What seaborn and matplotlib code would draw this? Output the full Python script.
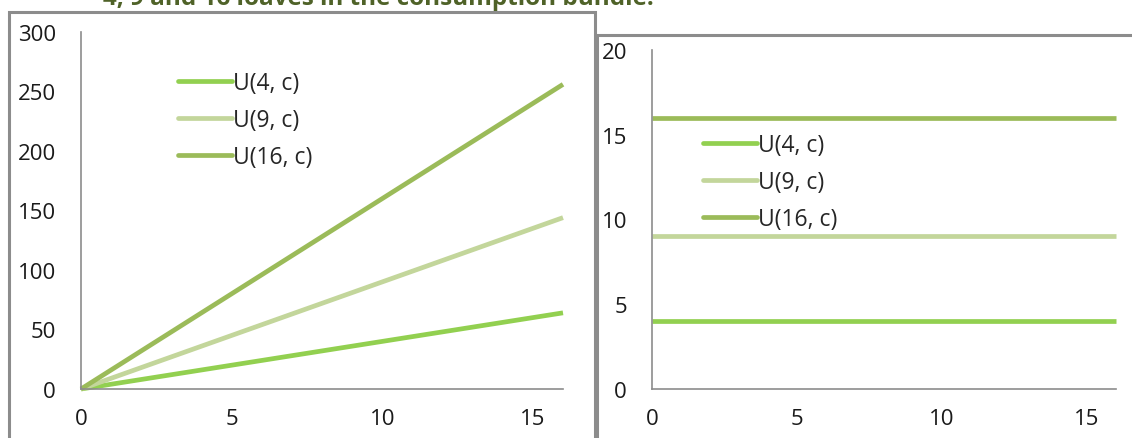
import numpy as np
import pandas as pd
import matplotlib
matplotlib.use("Agg")
import matplotlib.pyplot as plt
import seaborn as sns
from matplotlib.patches import Rectangle

# Quantities of c and the three bundle sizes
c_values = list(range(0, 17))
bundle_sizes = [4, 9, 16]
series_labels = ["U(4, c)", "U(9, c)", "U(16, c)"]

# Left panel: total utility s * c ; right panel: constant level s
total_u = {lab: [s * c for c in c_values] for lab, s in zip(series_labels, bundle_sizes)}
level_u = {lab: [s for _ in c_values] for lab, s in zip(series_labels, bundle_sizes)}

left_yticks = [0, 50, 100, 150, 200, 250, 300]
right_yticks = [0, 5, 10, 15, 20]
xticks = [0, 5, 10, 15]

palette = ["#92D050", "#C3D69B", "#9BBB59"]

sns.set_theme(style="white")
plt.rcParams["font.family"] = ["Open Sans", "DejaVu Sans"]

W, H = 1132, 439
fig = plt.figure(figsize=(W / 100, H / 100), dpi=100)

TICK_FS = 16
LEG_FS = 16.5


def fx(px):
    return px / W


def fy(py):
    return 1 - py / H


def long_df(d):
    rows = []
    for lab, vals in d.items():
        for c, v in zip(c_values, vals):
            rows.append({"c": c, "U": v, "series": lab})
    return pd.DataFrame(rows)


# Panel frames
fig.patches.append(Rectangle((fx(9), fy(445)), fx(595 - 9), fy(13) - fy(445),
                             transform=fig.transFigure, fill=False,
                             edgecolor="#8C8C8C", linewidth=2.2, zorder=0))
fig.patches.append(Rectangle((fx(597), fy(445)), fx(1140 - 597), fy(36) - fy(445),
                             transform=fig.transFigure, fill=False,
                             edgecolor="#8C8C8C", linewidth=2.2, zorder=0))

ax1 = fig.add_axes([fx(81), fy(390), fx(563 - 81), fy(33) - fy(390)])
ax2 = fig.add_axes([fx(652), fy(390), fx(1116 - 652), fy(51) - fy(390)])

for ax, data, yt, leg_pos in [
    (ax1, total_u, left_yticks, (fx(178), fy(72))),
    (ax2, level_u, right_yticks, (fx(703), fy(134))),
]:
    df = long_df(data)
    sns.lineplot(data=df, x="c", y="U", hue="series", palette=palette,
                 linewidth=3.4, ax=ax, legend=False)
    ax.set_xlim(0, 16)
    ax.set_ylim(yt[0], yt[-1])
    ax.set_xticks(xticks)
    ax.set_yticks(yt)
    ax.set_xlabel("")
    ax.set_ylabel("")
    ax.patch.set_alpha(0)
    for side in ["top", "right"]:
        ax.spines[side].set_visible(False)
    for side in ["left", "bottom"]:
        ax.spines[side].set_color("#8C8C8C")
        ax.spines[side].set_linewidth(1.2)
    ax.tick_params(axis="both", which="both", direction="out", length=8,
                   width=1.1, color="#8C8C8C", labelsize=TICK_FS, labelcolor="#1a1a1a")
    ax.tick_params(axis="y", pad=10)
    ax.tick_params(axis="x", pad=6)
    for ln in ax.lines:
        ln.set_solid_capstyle("butt")
        ln.set_clip_on(False)
    handles = [plt.Line2D([], [], color=col, linewidth=3.4) for col in palette]
    fig.legend(handles, series_labels, loc="upper left", bbox_to_anchor=leg_pos,
               frameon=False, fontsize=LEG_FS, handlelength=2.36, handletextpad=0.05,
               labelspacing=0.57, borderpad=0, borderaxespad=0)

fig.text(fx(378), fy(5), "4, 9 and 16 loaves in the consumption bundle.",
         ha="center", va="baseline", fontsize=17.5, fontweight="bold",
         color="#4F6228")

fig.savefig("out.png", dpi=100)
